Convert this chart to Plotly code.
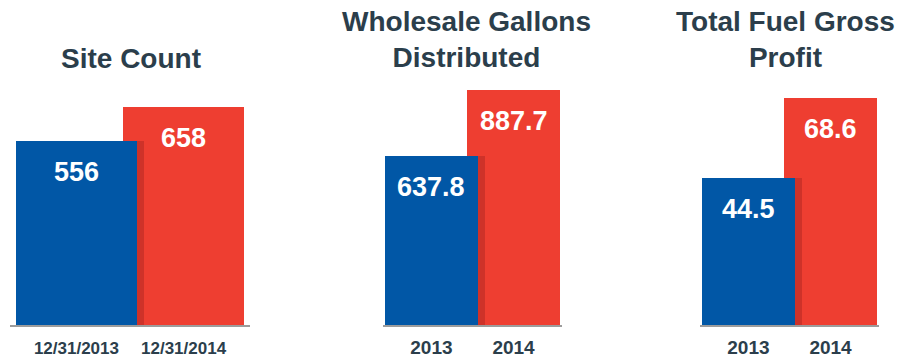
import plotly.graph_objects as go

# ---- data ----
titles = ["Site Count", "Wholesale Gallons<br>Distributed", "Total Fuel Gross<br>Profit"]
categories = [["12/31/2013", "12/31/2014"], ["2013", "2014"], ["2013", "2014"]]
values_2013 = [556, 637.8, 44.5]
values_2014 = [658, 887.7, 68.6]
value_labels_2013 = ["556", "637.8", "44.5"]
value_labels_2014 = ["658", "887.7", "68.6"]

# ---- style ----
BLUE = "#0157a6"
RED = "#ee3e31"
SHADOW = "rgba(140,25,25,0.32)"
DARK = "#2b3e4b"
FONT = "Liberation Sans, Arial, Helvetica, sans-serif"
W, H = 910, 358

x_domains_px = [(10, 250), (383, 562), (700, 879)]
x_ranges = [[-0.62, 1.62], [-0.59, 1.59], [-0.59, 1.59]]
y_tops = [979, 1226, 98.4]
tick_sizes = [17, 19, 19]
tick_standoff = [6, 4, 4]
shadow_shift = [0.065, 0.085, 0.085]
title_x_px = [131, 467, 785]
title_y_px = [59, 39.5, 39.5]
bar_w = 1.13
base_px = 31

fig = go.Figure()
annotations = []
for i in range(3):
    xa = "x" if i == 0 else f"x{i+1}"
    ya = "y" if i == 0 else f"y{i+1}"
    c0, c1 = categories[i]
    # red (behind)
    fig.add_trace(go.Bar(x=[c1], y=[values_2014[i]], width=[bar_w], marker_color=RED,
                         marker_line_width=0, xaxis=xa, yaxis=ya, showlegend=False, hoverinfo="skip"))
    # soft shadow of blue bar on red
    fig.add_trace(go.Bar(x=[c0], y=[values_2013[i]], width=[bar_w], offset=-bar_w / 2 + shadow_shift[i],
                         marker_color=SHADOW, marker_line_width=0, xaxis=xa, yaxis=ya,
                         showlegend=False, hoverinfo="skip"))
    # blue (front)
    fig.add_trace(go.Bar(x=[c0], y=[values_2013[i]], width=[bar_w], marker_color=BLUE,
                         marker_line_width=0, xaxis=xa, yaxis=ya, showlegend=False, hoverinfo="skip"))
    for idx, v, t in [(0, values_2013[i], value_labels_2013[i]), (1, values_2014[i], value_labels_2014[i])]:
        annotations.append(dict(x=idx, y=v, xref=xa, yref=ya, text=t, showarrow=False,
                                yanchor="middle", yshift=-31,
                                font=dict(family=FONT, size=27, color="white", weight="bold")))
    annotations.append(dict(x=title_x_px[i] / W, y=1 - title_y_px[i] / H, xref="paper", yref="paper",
                            text=titles[i], showarrow=False, xanchor="center", yanchor="middle",
                            font=dict(family=FONT, size=28, color=DARK, weight="bold")))
    d0, d1 = x_domains_px[i]
    fig.update_layout(**{
        ("xaxis" if i == 0 else f"xaxis{i+1}"): dict(
            domain=[d0 / W, d1 / W], range=x_ranges[i], type="category",
            categoryorder="array", categoryarray=categories[i],
            showgrid=False, zeroline=False, showline=True, linecolor="#9c9c9c", linewidth=2,
            ticks="", anchor=ya, fixedrange=True, ticklabelstandoff=tick_standoff[i],
            tickfont=dict(family=FONT, size=tick_sizes[i], color=DARK, weight="bold")),
        ("yaxis" if i == 0 else f"yaxis{i+1}"): dict(
            domain=[base_px / H, 1], range=[0, y_tops[i]], visible=False, anchor=xa, fixedrange=True),
    })

fig.update_layout(width=W, height=H, margin=dict(l=0, r=0, t=0, b=0),
                  barmode="overlay", bargap=0, plot_bgcolor="white", paper_bgcolor="white",
                  annotations=annotations)
fig.write_html("out.html", config={"displayModeBar": False})
